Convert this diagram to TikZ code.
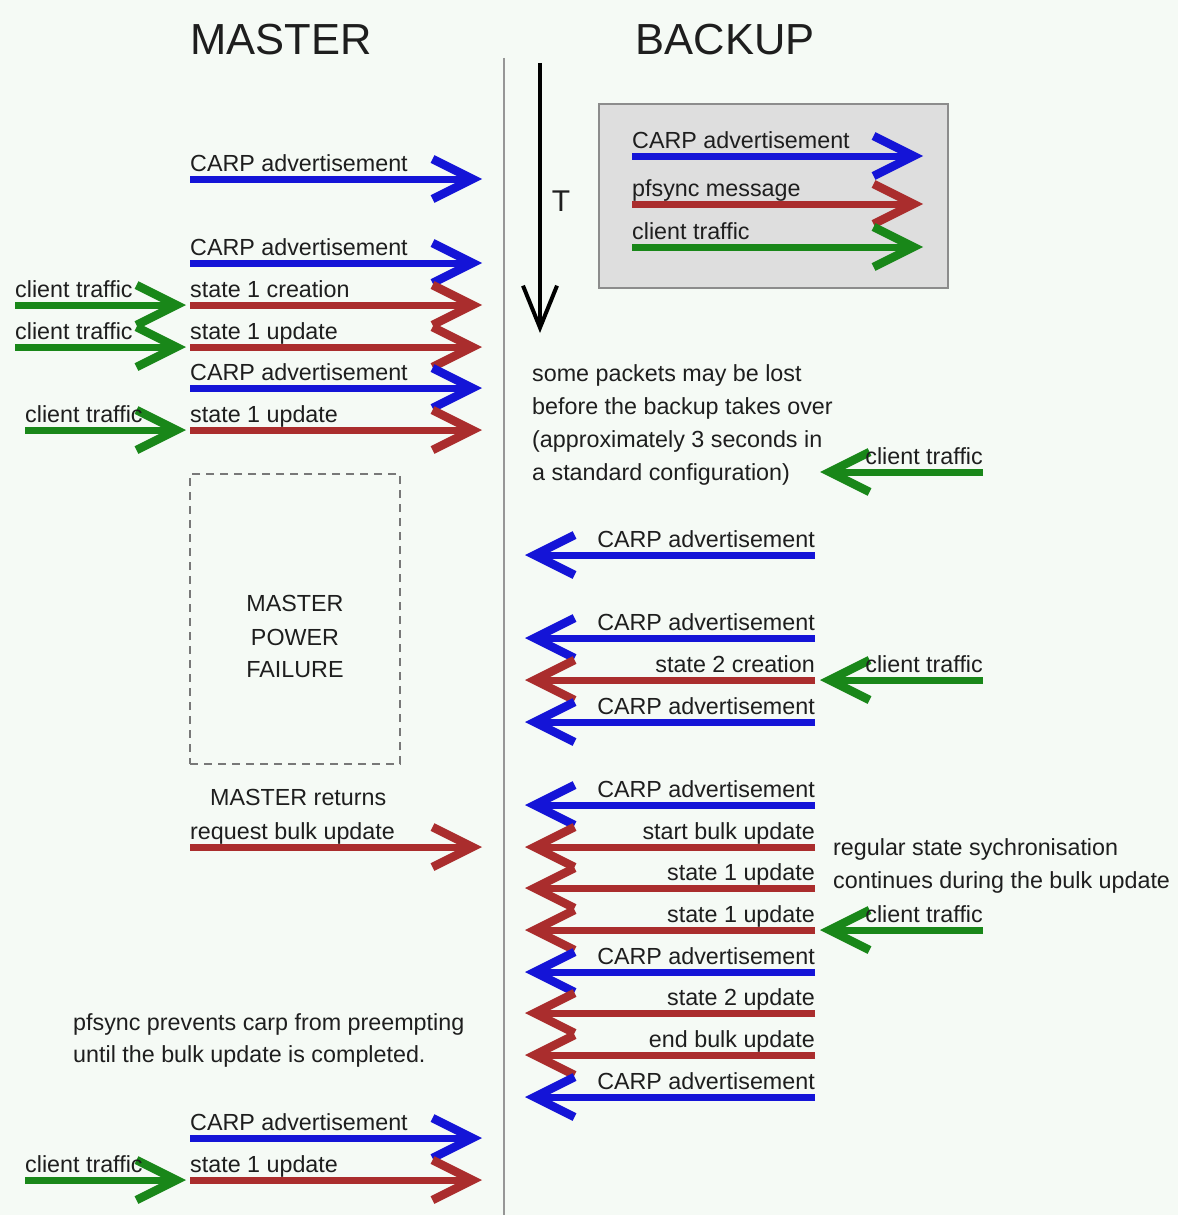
\documentclass[tikz,border=0pt]{standalone}
\usepackage{fontspec}
\setmainfont{Liberation Sans}
\usetikzlibrary{arrows.meta}
\definecolor{bgc}{RGB}{245,250,245}
\definecolor{carpblue}{RGB}{20,20,215}
\definecolor{syncred}{RGB}{170,45,45}
\definecolor{cligreen}{RGB}{25,135,25}
\definecolor{txt}{RGB}{30,30,30}
\definecolor{legfill}{RGB}{222,222,222}
\definecolor{legline}{RGB}{140,140,140}
\newcommand\lbfont{\fontsize{23.3}{33}\selectfont}
\newcommand\ttlfont{\fontsize{43.5}{50}\selectfont}
% right-pointing message: name, style, x1, x2, y, text (left aligned)
\newcommand\msgR[6]{%
  \coordinate (#1s) at (#3,#5);
  \coordinate (#1e) at (#4,#5);
  \draw[#2] (#1s) -- (#1e);
  \node[lbl,anchor=base west] (#1t) at ([yshift=8pt]#1s) {#6};}
% left-pointing message: text right aligned at start
\newcommand\msgL[6]{%
  \coordinate (#1s) at (#3,#5);
  \coordinate (#1e) at (#4,#5);
  \draw[#2] (#1s) -- (#1e);
  \node[lbl,anchor=base east] (#1t) at ([yshift=8pt]#1s) {#6};}
\begin{document}
\begin{tikzpicture}[x=1pt,y=-1pt,
  msg/.style={line width=7pt,line cap=butt,
    -{Straight Barb[length=40pt,width=40pt,line width=8.5pt]}},
  carp/.style={msg,draw=carpblue},
  sync/.style={msg,draw=syncred},
  cli/.style={msg,draw=cligreen},
  lbl/.style={font=\lbfont,text=txt,inner sep=0pt},
  ttl/.style={font=\ttlfont,text=txt,inner sep=0pt},
  divider/.style={draw={rgb,255:red,150;green,150;blue,150},line width=2pt},
  failbox/.style={draw={rgb,255:red,120;green,120;blue,120},line width=1.5pt,dash pattern=on 8pt off 6pt},
  legendbox/.style={draw=legline,fill=legfill,line width=2pt},
  timearrow/.style={draw=black,line width=4pt,-{Straight Barb[length=42pt,width=34pt]}}
]
\useasboundingbox (0,0) rectangle (1178,1215);
\fill[bgc] (0,0) rectangle (1178,1215);

% titles
\node[ttl] (master) at (281,40) {MASTER};
\node[ttl] (backup) at (725,40) {BACKUP};

% divider
\coordinate (divtop) at (504,58);
\coordinate (divbot) at (504,1215);
\draw[divider] (divtop) -- (divbot);

% time arrow
\coordinate (ttop) at (540,63);
\coordinate (tbot) at (540,333);
\draw[timearrow] (ttop) -- (tbot);
\node[font=\fontsize{30}{34}\selectfont,text=txt,inner sep=0pt] (tlabel) at (561,201) {T};

% legend
\node[legendbox,minimum width=349pt,minimum height=184pt,inner sep=0pt] (legend) at (773,196) {};
\msgR{lg1}{carp}{632}{923}{156}{CARP advertisement}
\msgR{lg2}{sync}{632}{923}{204}{pfsync message}
\msgR{lg3}{cli}{632}{923}{247}{client traffic}

% master side messages
\msgR{m1}{carp}{190}{482}{179}{CARP advertisement}
\msgR{m2}{carp}{190}{482}{263}{CARP advertisement}
\msgR{m3}{sync}{190}{482}{305}{state 1 creation}
\msgR{m4}{sync}{190}{482}{347}{state 1 update}
\msgR{m5}{carp}{190}{482}{388}{CARP advertisement}
\msgR{m6}{sync}{190}{482}{430}{state 1 update}
\msgR{g1}{cli}{15}{186}{305}{client traffic}
\msgR{g2}{cli}{15}{186}{347}{client traffic}
\msgR{g3}{cli}{25}{186}{430}{client traffic}

% power failure box
\node[failbox,minimum width=210pt,minimum height=290pt,inner sep=0pt] (fail) at (295,619) {};
\node[lbl,anchor=base] (f1) at (295,611) {MASTER};
\node[lbl,anchor=base] (f2) at (295,645) {POWER};
\node[lbl,anchor=base] (f3) at (295,677) {FAILURE};

% master returns
\node[lbl,anchor=base west] (ret) at (210,805) {MASTER returns};
\msgR{m7}{sync}{190}{482}{847}{request bulk update}

% pfsync note
\node[lbl,anchor=base west] (pf1) at (73,1030) {pfsync prevents carp from preempting};
\node[lbl,anchor=base west] (pf2) at (73,1062) {until the bulk update is completed.};

% bottom master messages
\msgR{m8}{carp}{190}{482}{1138}{CARP advertisement}
\msgR{m9}{sync}{190}{482}{1180}{state 1 update}
\msgR{g4}{cli}{25}{186}{1180}{client traffic}

% loss note
\node[lbl,anchor=base west] (ls1) at (532,381) {some packets may be lost};
\node[lbl,anchor=base west] (ls2) at (532,414) {before the backup takes over};
\node[lbl,anchor=base west] (ls3) at (532,447) {(approximately 3 seconds in};
\node[lbl,anchor=base west] (ls4) at (532,480) {a standard configuration)};

% backup side messages
\msgL{gr1}{cli}{983}{820}{472}{client traffic}
\msgL{b1}{carp}{815}{525}{555}{CARP advertisement}
\msgL{b2}{carp}{815}{525}{638}{CARP advertisement}
\msgL{b3}{sync}{815}{525}{680}{state 2 creation}
\msgL{gr2}{cli}{983}{820}{680}{client traffic}
\msgL{b4}{carp}{815}{525}{722}{CARP advertisement}
\msgL{b5}{carp}{815}{525}{805}{CARP advertisement}
\msgL{b6}{sync}{815}{525}{847}{start bulk update}
\msgL{b7}{sync}{815}{525}{888}{state 1 update}
\msgL{b8}{sync}{815}{525}{930}{state 1 update}
\msgL{gr3}{cli}{983}{820}{930}{client traffic}
\msgL{b9}{carp}{815}{525}{972}{CARP advertisement}
\msgL{b10}{sync}{815}{525}{1013}{state 2 update}
\msgL{b11}{sync}{815}{525}{1055}{end bulk update}
\msgL{b12}{carp}{815}{525}{1097}{CARP advertisement}

% sync note
\node[lbl,anchor=base west] (rs1) at (833,855) {regular state sychronisation};
\node[lbl,anchor=base west] (rs2) at (833,888) {continues during the bulk update};
\end{tikzpicture}
\end{document}
